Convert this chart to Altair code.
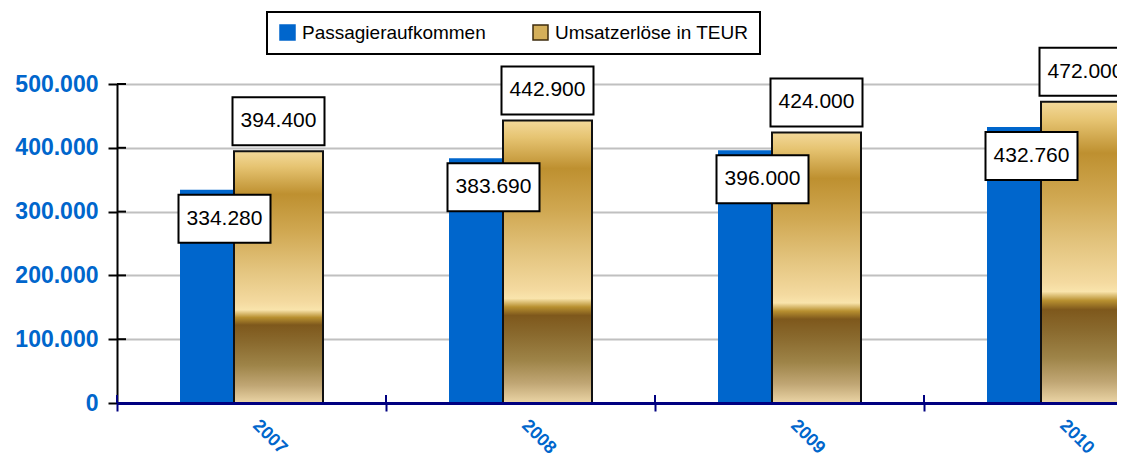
import altair as alt
import pandas as pd

years = ["2007", "2008", "2009", "2010"]
passagiere = [334280, 383690, 396000, 432760]
umsatz = [394400, 442900, 424000, 472000]
series_names = ["Passagieraufkommen", "Umsatzerlöse in TEUR"]
y_ticks = [0, 100000, 200000, 300000, 400000, 500000]


def de(v):
    return f"{v:,}".replace(",", ".")


df = pd.DataFrame({
    "year": years,
    "pax": passagiere,
    "rev": umsatz,
    "pax_label": [de(v) for v in passagiere],
    "rev_label": [de(v) for v in umsatz],
    "s_pax": [series_names[0]] * len(years),
})
ticks_df = pd.DataFrame({"v": y_ticks})

BLUE = "#0066CC"
NAVY = "#000080"
FONT = "Liberation Sans"

x_scale = alt.Scale(domain=years, range=[0, 1076], paddingInner=0, paddingOuter=0)
y_scale = alt.Scale(domain=[0, 500000], nice=False)

x_axis = alt.Axis(
    title=None, tickBand="extent", labelAngle=45, labelAlign="left",
    labelBaseline="top", labelPadding=5, labelOffset=10, labelFont=FONT,
    labelFontSize=18, labelFontWeight="bold", labelColor=BLUE,
    domainColor=NAVY, domainWidth=3, tickColor=NAVY, tickWidth=2, tickSize=8,
    grid=False, zindex=1,
)
y_axis = alt.Axis(
    title=None, values=y_ticks,
    labelExpr="replace(format(datum.value, ','), regexp(',', 'g'), '.')",
    labelFont=FONT, labelFontSize=23, labelFontWeight="bold", labelColor=BLUE,
    labelPadding=10, domainColor="black", domainWidth=2, tickColor="black",
    tickWidth=2, tickSize=9, gridColor="#C0C0C0", gridWidth=2,
)


def X(**kw):
    return alt.X("year:N", scale=x_scale, axis=x_axis, sort=years, **kw)


def Y(field):
    return alt.Y(field, scale=y_scale, axis=y_axis)


legend = alt.Legend(
    title=None, orient="none", legendX=150, legendY=-72, direction="horizontal",
    symbolType="square", symbolSize=225, symbolStrokeWidth=1.5,
    labelFont=FONT, labelFontSize=19, labelColor="black", labelLimit=400,
    labelOffset=5, columnPadding=44, padding=11, strokeColor="black",
)

gold_gradient = alt.Gradient(
    gradient="linear", x1=0, y1=0, x2=0, y2=1,
    stops=[
        alt.GradientStop(color="#F3D99A", offset=0.0),
        alt.GradientStop(color="#E6C472", offset=0.06),
        alt.GradientStop(color="#BE9030", offset=0.17),
        alt.GradientStop(color="#D0A852", offset=0.32),
        alt.GradientStop(color="#E3C47E", offset=0.47),
        alt.GradientStop(color="#F4DAA0", offset=0.60),
        alt.GradientStop(color="#F9E4AC", offset=0.63),
        alt.GradientStop(color="#B89030", offset=0.66),
        alt.GradientStop(color="#7E581C", offset=0.69),
        alt.GradientStop(color="#8A6A2E", offset=0.76),
        alt.GradientStop(color="#9E8448", offset=0.85),
        alt.GradientStop(color="#C0A674", offset=0.93),
        alt.GradientStop(color="#EBD5A6", offset=1.0),
    ],
)

ytick_in = alt.Chart(ticks_df).mark_rule(color="black", strokeWidth=2).encode(
    y=Y("v:Q"), x=alt.value(0), x2=alt.value(9)
)

blue = alt.Chart(df).mark_bar(size=89, xOffset=-27, strokeWidth=0).encode(
    x=X(),
    y=Y("pax:Q"),
    color=alt.Color("s_pax:N", scale=alt.Scale(domain=series_names, range=[BLUE, "#D4AF5A"]), legend=legend),
    stroke=alt.Stroke("s_pax:N", scale=alt.Scale(domain=series_names, range=[BLUE, "#3E2C0E"]), legend=legend),
)

gold = alt.Chart(df).mark_bar(size=89, xOffset=27, fill=gold_gradient, stroke="#111111", strokeWidth=2).encode(
    x=X(), y=Y("rev:Q")
)

xtick_in = alt.Chart(df).mark_rule(color=NAVY, strokeWidth=2).encode(
    x=X(bandPosition=0), y=alt.value(311), y2=alt.value(319)
)

box_path = "M-1,-0.5217L1,-0.5217L1,0.5217L-1,0.5217Z"


def boxes(field, dx, dy):
    return alt.Chart(df).mark_point(
        shape=box_path, size=8464, filled=True, fill="white", stroke="black",
        strokeWidth=2, opacity=1, xOffset=dx, yOffset=dy,
    ).encode(x=X(), y=Y(field))


def texts(field, label, dx, dy):
    return alt.Chart(df).mark_text(
        font=FONT, fontSize=21, color="black", xOffset=dx, yOffset=dy,
        align="center", baseline="middle",
    ).encode(x=X(), y=Y(field), text=alt.Text(label))


chart = alt.layer(
    ytick_in, blue, gold, xtick_in,
    boxes("rev:Q", 27, -30), texts("rev:Q", "rev_label:N", 27, -30),
    boxes("pax:Q", -27, 29), texts("pax:Q", "pax_label:N", -27, 29),
).properties(
    width=1000, height=319,
    autosize=alt.AutoSizeParams(type="none"),
    padding={"left": 109, "top": 76, "right": 0, "bottom": 54},
    background="white",
).configure_view(stroke="transparent").configure_legend(strokeWidth=2)

chart.save("out.html", embed_options={"renderer": "svg", "actions": False})
